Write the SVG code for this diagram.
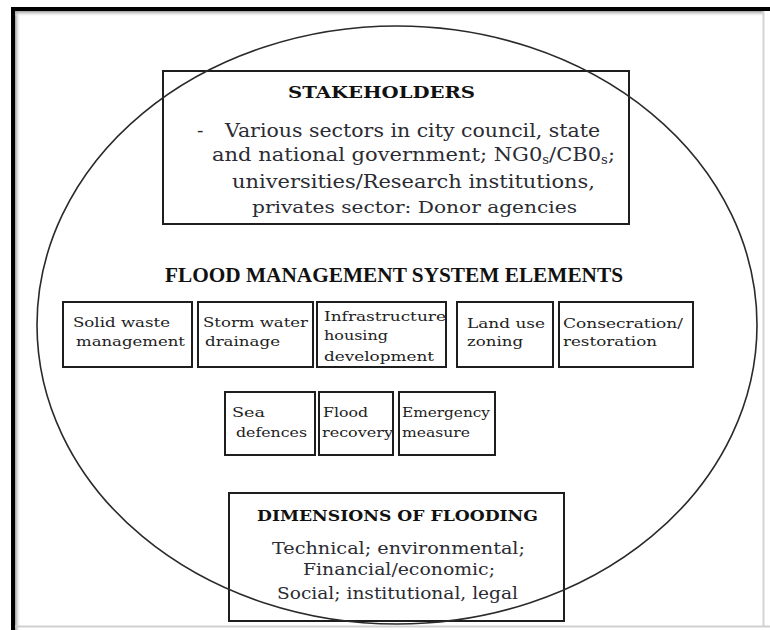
<svg xmlns="http://www.w3.org/2000/svg" width="770" height="630" viewBox="0 0 770 630">
<defs>
<linearGradient id="shL" x1="0" y1="0" x2="1" y2="0"><stop offset="0" stop-color="#9a9a9a"/><stop offset="1" stop-color="#ffffff" stop-opacity="0"/></linearGradient>
<linearGradient id="shT" x1="0" y1="0" x2="0" y2="1"><stop offset="0" stop-color="#9a9a9a"/><stop offset="1" stop-color="#ffffff" stop-opacity="0"/></linearGradient>
<style>
.bx{fill:#fff;stroke:#1e1e1e;stroke-width:2}
.big{fill:none;stroke:#2a2a2a;stroke-width:1.6}
.h{font-family:"DejaVu Serif","Liberation Serif",serif;font-weight:bold;fill:#111}
.t{font-family:"DejaVu Serif","Liberation Serif",serif;fill:#2b2b33}
.s{font-family:"DejaVu Serif","Liberation Serif",serif;font-size:13px;fill:#222}
.ti{font-family:"Liberation Serif","Times New Roman",serif;font-weight:bold;fill:#111}
</style>
</defs>
<rect x="0" y="0" width="770" height="630" fill="#fff"/>
<g id="frame">
<rect x="15" y="11" width="6" height="619" fill="url(#shL)"/>
<rect x="15" y="11" width="748" height="6" fill="url(#shT)"/>
<line x1="763.5" y1="10" x2="763.5" y2="626" stroke="#d4d4d4" stroke-width="2"/>
<line x1="14" y1="626.5" x2="770" y2="626.5" stroke="#d0d0d0" stroke-width="2"/>
<line x1="11" y1="9" x2="770" y2="9" stroke="#000" stroke-width="4"/>
<line x1="13" y1="7" x2="13" y2="630" stroke="#000" stroke-width="4"/>
</g>
<g id="stakeholders">
<rect class="bx" x="163" y="71" width="466" height="153" stroke-width="1.6"/>
<text class="h" x="288" y="98" font-size="16" textLength="187" lengthAdjust="spacingAndGlyphs">STAKEHOLDERS</text>
<text class="t" x="197" y="137" font-size="19">-</text>
<text class="t" x="225" y="137" font-size="19" textLength="375" lengthAdjust="spacingAndGlyphs">Various sectors in city council, state</text>
<text class="t" x="212" y="161" font-size="19" textLength="403" lengthAdjust="spacingAndGlyphs">and national government; NG0<tspan font-size="12" dy="3">s</tspan><tspan dy="-3">/CB0</tspan><tspan font-size="12" dy="3">s</tspan><tspan dy="-3">;</tspan></text>
<text class="t" x="232" y="188" font-size="19" textLength="363" lengthAdjust="spacingAndGlyphs">universities/Research institutions,</text>
<text class="t" x="252" y="213" font-size="17" textLength="325" lengthAdjust="spacingAndGlyphs">privates sector: Donor agencies</text>
</g>
<g id="title">
<text class="ti" x="165" y="282" font-size="20" textLength="458" lengthAdjust="spacingAndGlyphs">FLOOD MANAGEMENT SYSTEM ELEMENTS</text>
</g>
<g id="solid-waste">
<rect class="bx" x="63" y="302" width="129" height="65"/>
<text class="s" x="73" y="327" textLength="97" lengthAdjust="spacingAndGlyphs">Solid waste</text>
<text class="s" x="76" y="346" textLength="109" lengthAdjust="spacingAndGlyphs">management</text>
</g>
<g id="storm-water">
<rect class="bx" x="198" y="302" width="115" height="65"/>
<text class="s" x="203" y="327" textLength="105" lengthAdjust="spacingAndGlyphs">Storm water</text>
<text class="s" x="205" y="346" textLength="75" lengthAdjust="spacingAndGlyphs">drainage</text>
</g>
<g id="infrastructure">
<rect class="bx" x="317" y="302" width="129" height="65"/>
<text class="s" x="324" y="321" textLength="122" lengthAdjust="spacingAndGlyphs">Infrastructure</text>
<text class="s" x="324" y="340" textLength="64" lengthAdjust="spacingAndGlyphs">housing</text>
<text class="s" x="324" y="361" textLength="110" lengthAdjust="spacingAndGlyphs">development</text>
</g>
<g id="land-use">
<rect class="bx" x="457" y="302" width="96" height="65"/>
<text class="s" x="467" y="328" textLength="78" lengthAdjust="spacingAndGlyphs">Land use</text>
<text class="s" x="467" y="346" textLength="56" lengthAdjust="spacingAndGlyphs">zoning</text>
</g>
<g id="consecration">
<rect class="bx" x="559" y="302" width="134" height="65"/>
<text class="s" x="563" y="328" textLength="120" lengthAdjust="spacingAndGlyphs">Consecration/</text>
<text class="s" x="563" y="346" textLength="94" lengthAdjust="spacingAndGlyphs">restoration</text>
</g>
<g id="sea-defences">
<rect class="bx" x="225" y="392" width="90" height="63"/>
<text class="s" x="232" y="417" textLength="33" lengthAdjust="spacingAndGlyphs">Sea</text>
<text class="s" x="236" y="437" textLength="71" lengthAdjust="spacingAndGlyphs">defences</text>
</g>
<g id="flood-recovery">
<rect class="bx" x="319" y="392" width="74" height="63"/>
<text class="s" x="323" y="417" textLength="45" lengthAdjust="spacingAndGlyphs">Flood</text>
<text class="s" x="322" y="437" textLength="71" lengthAdjust="spacingAndGlyphs">recovery</text>
</g>
<g id="emergency">
<rect class="bx" x="399" y="392" width="96" height="63"/>
<text class="s" x="402" y="417" textLength="88" lengthAdjust="spacingAndGlyphs">Emergency</text>
<text class="s" x="402" y="437" textLength="68" lengthAdjust="spacingAndGlyphs">measure</text>
</g>
<g id="dimensions">
<rect class="bx" x="229" y="493" width="335" height="128" stroke-width="1.6"/>
<text class="h" x="257" y="521" font-size="15" textLength="281" lengthAdjust="spacingAndGlyphs">DIMENSIONS OF FLOODING</text>
<text class="t" x="272" y="554" font-size="16" textLength="253" lengthAdjust="spacingAndGlyphs">Technical; environmental;</text>
<text class="t" x="303" y="575" font-size="16" textLength="192" lengthAdjust="spacingAndGlyphs">Financial/economic;</text>
<text class="t" x="277" y="599" font-size="16" textLength="241" lengthAdjust="spacingAndGlyphs">Social; institutional, legal</text>
</g>
<g id="boundary">
<ellipse class="big" cx="397" cy="325" rx="360" ry="299"/>
</g>
</svg>
